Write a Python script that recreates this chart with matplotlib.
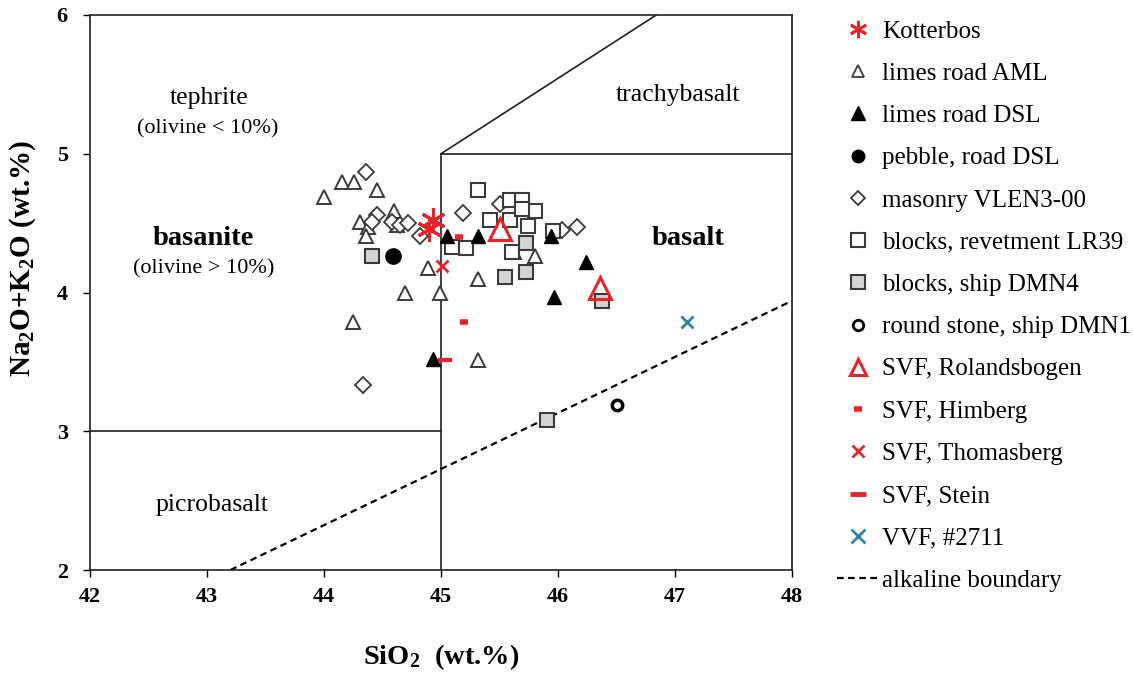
import matplotlib
matplotlib.use("Agg")
import matplotlib.pyplot as plt
from matplotlib.lines import Line2D

plt.rcParams['font.family'] = ['Liberation Serif', 'DejaVu Serif']
plt.rcParams['mathtext.default'] = 'regular'

# ---------------- data ----------------
kotterbos_x = [44.93, 44.90]
kotterbos_y = [4.52, 4.46]

aml_x = [44.00, 44.15, 44.26, 44.45, 44.31, 44.38, 44.36, 44.60, 44.62, 44.89,
         44.69, 44.99, 44.25, 45.32, 45.32, 45.62, 45.80, 45.69]
aml_y = [4.69, 4.80, 4.80, 4.74, 4.51, 4.47, 4.41, 4.59, 4.49, 4.18,
         4.00, 4.00, 3.79, 3.51, 4.10, 4.29, 4.26, 4.60]

dsl_x = [44.93, 45.05, 45.32, 45.94, 46.24, 45.97]
dsl_y = [3.52, 4.41, 4.41, 4.41, 4.22, 3.97]

pebble_x = [44.59]
pebble_y = [4.26]

masonry_x = [44.36, 44.45, 44.41, 44.58, 44.65, 44.72, 44.82, 45.19, 45.50, 46.03, 46.16, 44.33]
masonry_y = [4.87, 4.56, 4.51, 4.51, 4.49, 4.50, 4.41, 4.57, 4.64, 4.45, 4.47, 3.33]

lr39_x = [45.32, 45.59, 45.69, 45.80, 45.42, 45.59, 45.74, 45.09, 45.21, 45.61, 45.96, 45.69]
lr39_y = [4.74, 4.67, 4.67, 4.59, 4.52, 4.52, 4.48, 4.33, 4.32, 4.29, 4.44, 4.60]

dmn4_x = [44.41, 45.73, 45.55, 45.73, 46.38, 45.91]
dmn4_y = [4.26, 4.36, 4.11, 4.15, 3.94, 3.08]

dmn1_x = [46.50]
dmn1_y = [3.19]

roland_x = [45.50, 46.36]
roland_y = [4.46, 4.03]

himberg_x = [45.15, 45.20]
himberg_y = [4.40, 3.79]

thomas_x = [45.01]
thomas_y = [4.19]

stein_x = [45.03]
stein_y = [3.51]

vvf_x = [47.10]
vvf_y = [3.79]

alk_x = [43.2, 48.0]
alk_y = [2.0, 3.94]

# field boundaries
bound_segments = [
    ([45, 45], [2, 5]),
    ([45, 48], [5, 5]),
    ([42, 45], [3, 3]),
    ([45, 46.84], [5, 6]),
]

labels = ["Kotterbos", "limes road AML", "limes road DSL", "pebble, road DSL",
          "masonry VLEN3-00", "blocks, revetment LR39", "blocks, ship DMN4",
          "round stone, ship DMN1", "SVF, Rolandsbogen", "SVF, Himberg",
          "SVF, Thomasberg", "SVF, Stein", "VVF, #2711", "alkaline boundary"]

xticks = [42, 43, 44, 45, 46, 47, 48]
yticks = [2, 3, 4, 5, 6]

# ---------------- figure ----------------
W, H = 1133, 677
fig = plt.figure(figsize=(W / 100, H / 100), dpi=100)
ax = fig.add_axes([90 / W, 1 - 570 / H, (792 - 90) / W, (570 - 15) / H])

for xs, ys in bound_segments:
    ax.plot(xs, ys, color='#202020', lw=1.2, zorder=1)
ax.plot(alk_x, alk_y, color='black', lw=1.6, ls=(0, (3, 2)), zorder=1)

red = '#E8232A'
teal = '#31859C'
edge = '#3a3a3a'
grayfill = '#D4D4D4'

ax.plot(aml_x, aml_y, ls='none', marker='^', ms=9.5, mfc='white', mec=edge, mew=1.4, zorder=3)
ax.plot(masonry_x, masonry_y, ls='none', marker='D', ms=8, mfc='white', mec=edge, mew=1.3, zorder=3)
ax.plot(lr39_x, lr39_y, ls='none', marker='s', ms=9.5, mfc='white', mec=edge, mew=1.5, zorder=3)
ax.plot(dmn4_x, dmn4_y, ls='none', marker='s', ms=9.5, mfc=grayfill, mec=edge, mew=1.5, zorder=3)
ax.plot(dsl_x, dsl_y, ls='none', marker='^', ms=10, mfc='black', mec='black', mew=1, zorder=4)
ax.plot(pebble_x, pebble_y, ls='none', marker='o', ms=11, mfc='black', mec='black', zorder=4)
ax.plot(dmn1_x, dmn1_y, ls='none', marker='o', ms=7.5, mfc='white', mec='black', mew=2.5, zorder=4)
ax.plot(roland_x, roland_y, ls='none', marker='^', ms=15.5, mfc='none', mec=red, mew=2.2, zorder=5)
ax.plot(himberg_x, himberg_y, ls='none', marker='_', ms=6, mec=red, mew=4, zorder=5)
ax.plot(stein_x, stein_y, ls='none', marker='_', ms=10, mec=red, mew=3, zorder=5)
ax.plot(thomas_x, thomas_y, ls='none', marker='x', ms=9, mec=red, mew=2, zorder=5)
ax.plot(vvf_x, vvf_y, ls='none', marker='x', ms=9, mec=teal, mew=2, zorder=5)
ax.plot(kotterbos_x, kotterbos_y, ls='none', marker=(6, 2, 0), ms=18, mec=red, mew=2.2, zorder=6)

# field names
ax.text(43.02, 5.40, "tephrite", fontsize=18.5, ha='center', va='center')
ax.text(43.01, 5.18, "(olivine < 10%)", fontsize=16, ha='center', va='center')
ax.text(42.97, 4.39, "basanite", fontweight='bold', fontsize=20.5, ha='center', va='center')
ax.text(42.97, 4.17, "(olivine > 10%)", fontsize=16, ha='center', va='center')
ax.text(47.03, 5.42, "trachybasalt", fontsize=18.5, ha='center', va='center')
ax.text(47.11, 4.39, "basalt", fontweight='bold', fontsize=20.5, ha='center', va='center')
ax.text(43.04, 2.47, "picrobasalt", fontsize=18.5, ha='center', va='center')

ax.set_xlim(42, 48)
ax.set_ylim(2, 6)
ax.set_xticks(xticks)
ax.set_yticks(yticks)
ax.tick_params(direction='out', length=5, width=1, labelsize=16)
ax.tick_params(axis='x', pad=7)
ax.tick_params(axis='y', pad=11)
for lab in ax.get_xticklabels() + ax.get_yticklabels():
    lab.set_fontweight('bold')
for s in ax.spines.values():
    s.set_linewidth(1.2)
    s.set_color('#202020')

fig.text(441 / W, 1 - 657 / H, "SiO$_2$  (wt.%)", fontweight='bold', fontsize=20.5,
         ha='center', va='center')
fig.text(23 / W, 1 - 258 / H, "Na$_2$O+K$_2$O (wt.%)", fontweight='bold', fontsize=21,
         ha='center', va='center', rotation=90)

# legend
handles = [
    Line2D([], [], ls='none', marker=(6, 2, 0), ms=12.5, mec=red, mew=2),
    Line2D([], [], ls='none', marker='^', ms=9, mfc='white', mec=edge, mew=1.3),
    Line2D([], [], ls='none', marker='^', ms=10.5, mfc='black', mec='black'),
    Line2D([], [], ls='none', marker='o', ms=9, mfc='black', mec='black'),
    Line2D([], [], ls='none', marker='D', ms=7.5, mfc='white', mec=edge, mew=1.3),
    Line2D([], [], ls='none', marker='s', ms=9.5, mfc='white', mec=edge, mew=1.5),
    Line2D([], [], ls='none', marker='s', ms=9.5, mfc=grayfill, mec=edge, mew=1.5),
    Line2D([], [], ls='none', marker='o', ms=7.5, mfc='white', mec='black', mew=2),
    Line2D([], [], ls='none', marker='^', ms=12, mfc='none', mec=red, mew=2.2),
    Line2D([], [], ls='none', marker='_', ms=6, mec=red, mew=4),
    Line2D([], [], ls='none', marker='x', ms=9, mec=red, mew=2),
    Line2D([], [], ls='none', marker='_', ms=12, mec=red, mew=3.5),
    Line2D([], [], ls='none', marker='x', ms=10, mec=teal, mew=2),
    Line2D([], [], color='black', lw=1.6, ls=(0, (3, 2))),
]
leg = ax.legend(handles, labels, loc='upper left', frameon=False,
                bbox_to_anchor=(837 / W, 1 - 20 / H), bbox_transform=fig.transFigure,
                fontsize=18, borderpad=0, borderaxespad=0, handlelength=1.65,
                handletextpad=0.15, labelspacing=0.79)

fig.savefig("out.png", dpi=100)
